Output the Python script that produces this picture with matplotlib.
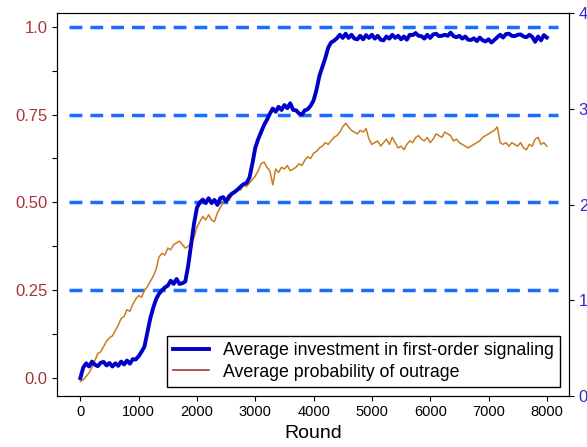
import matplotlib

matplotlib.use("Agg")
import matplotlib.pyplot as plt
from matplotlib.lines import Line2D

plt.rcParams["font.family"] = ["Liberation Sans", "DejaVu Sans"]

# Rounds sampled every 50 steps
rounds = list(range(0, 8001, 50))

investment = [
    0.000, 0.030, 0.042, 0.033, 0.047, 0.038, 0.034, 0.044, 0.046, 0.036,
    0.043, 0.033, 0.042, 0.035, 0.047, 0.039, 0.050, 0.041, 0.054, 0.053,
    0.062, 0.075, 0.090, 0.130, 0.170, 0.200, 0.225, 0.240, 0.250, 0.258,
    0.263, 0.277, 0.268, 0.282, 0.268, 0.270, 0.275, 0.320, 0.380, 0.440,
    0.485, 0.500, 0.508, 0.498, 0.512, 0.498, 0.507, 0.493, 0.512, 0.515,
    0.503, 0.517, 0.525, 0.530, 0.537, 0.545, 0.552, 0.555, 0.570, 0.610,
    0.655, 0.680, 0.700, 0.720, 0.735, 0.752, 0.767, 0.758, 0.772, 0.763,
    0.777, 0.768, 0.782, 0.763, 0.762, 0.753, 0.750, 0.762, 0.765, 0.775,
    0.790, 0.820, 0.860, 0.885, 0.910, 0.940, 0.955, 0.960, 0.967, 0.977,
    0.968, 0.980, 0.968, 0.977, 0.966, 0.964, 0.974, 0.964, 0.976, 0.968,
    0.977, 0.966, 0.974, 0.963, 0.961, 0.972, 0.966, 0.977, 0.968, 0.974,
    0.964, 0.972, 0.963, 0.977, 0.976, 0.982, 0.974, 0.973, 0.966, 0.977,
    0.968, 0.978, 0.980, 0.973, 0.974, 0.977, 0.974, 0.983, 0.973, 0.970,
    0.974, 0.966, 0.972, 0.963, 0.962, 0.967, 0.959, 0.969, 0.961, 0.958,
    0.964, 0.955, 0.962, 0.970, 0.977, 0.969, 0.979, 0.980, 0.974, 0.973,
    0.977, 0.978, 0.972, 0.970, 0.977, 0.971, 0.957, 0.972, 0.961, 0.976,
    0.969,
]

outrage = [
    -0.010, -0.005, 0.005, 0.015, 0.030, 0.050, 0.070, 0.075, 0.090, 0.105,
    0.115, 0.120, 0.135, 0.150, 0.170, 0.175, 0.195, 0.190, 0.210, 0.225,
    0.235, 0.230, 0.250, 0.260, 0.275, 0.290, 0.310, 0.345, 0.355, 0.350,
    0.370, 0.365, 0.380, 0.385, 0.390, 0.380, 0.370, 0.375, 0.385, 0.400,
    0.430, 0.445, 0.460, 0.450, 0.465, 0.450, 0.445, 0.470, 0.485, 0.500,
    0.510, 0.505, 0.520, 0.530, 0.540, 0.535, 0.550, 0.545, 0.555, 0.565,
    0.575, 0.590, 0.610, 0.615, 0.600, 0.590, 0.550, 0.595, 0.585, 0.600,
    0.595, 0.605, 0.590, 0.595, 0.600, 0.610, 0.605, 0.620, 0.630, 0.625,
    0.640, 0.645, 0.655, 0.660, 0.670, 0.665, 0.675, 0.685, 0.690, 0.700,
    0.715, 0.725, 0.715, 0.705, 0.700, 0.695, 0.705, 0.700, 0.710, 0.680,
    0.665, 0.670, 0.675, 0.660, 0.670, 0.680, 0.665, 0.685, 0.670, 0.655,
    0.660, 0.650, 0.665, 0.675, 0.670, 0.685, 0.690, 0.680, 0.675, 0.685,
    0.670, 0.680, 0.695, 0.690, 0.685, 0.700, 0.695, 0.690, 0.675, 0.680,
    0.670, 0.665, 0.660, 0.655, 0.660, 0.665, 0.670, 0.675, 0.685, 0.690,
    0.695, 0.700, 0.705, 0.715, 0.670, 0.665, 0.670, 0.660, 0.670, 0.665,
    0.660, 0.670, 0.655, 0.650, 0.665, 0.660, 0.680, 0.685, 0.665, 0.670,
    0.660,
]

levels = [0.25, 0.5, 0.75, 1.0]
left_ticks = [0.0, 0.125, 0.25, 0.375, 0.5, 0.625, 0.75, 0.875, 1.0]
left_labels = ["0.0", "", "0.25", "", "0.50", "", "0.75", "", "1.0"]
right_ticks = [0, 1, 2, 3, 4]
x_ticks = list(range(0, 8001, 1000))

assert len(rounds) == len(investment) == len(outrage)

BLUE = "#0000c8"
ORANGE = "#c87d1e"
BROWN = "#a3363a"
DASH = "#1a6dff"

fig = plt.figure(figsize=(5.87, 4.47), dpi=100)
ax = fig.add_axes([0.0976, 0.1148, 0.8717, 0.8554])

ax.hlines(levels, -200, 8200, colors=DASH, linestyles=(0, (3.7, 2.3)),
          linewidth=2.5, zorder=1)
ax.plot(rounds, outrage, color=ORANGE, linewidth=1.1, zorder=2)
ax.plot(rounds, investment, color=BLUE, linewidth=2.8, zorder=3)

ax.set_xlim(-395, 8380)
ax.set_ylim(-0.05, 1.038)
ax.set_xticks(x_ticks)
ax.tick_params(axis="x", labelsize=10.5)
ax.set_yticks(left_ticks, left_labels)
ax.tick_params(axis="y", labelsize=12, labelcolor=BROWN)
ax.set_xlabel("Round", fontsize=14, labelpad=4)

ax2 = ax.twinx()
ax2.set_ylim(0, 4)
ax2.set_yticks(right_ticks)
ax2.tick_params(axis="y", labelsize=12, labelcolor="#2a2ad0")

handles = [
    Line2D([], [], color=BLUE, linewidth=2.8),
    Line2D([], [], color=BROWN, linewidth=1.2),
]
ax.legend(handles,
          ["Average investment in first-order signaling",
           "Average probability of outrage"],
          loc="lower right", fontsize=12.8, fancybox=False, framealpha=1,
          edgecolor="black", labelspacing=0.25, borderaxespad=0.5,
          handlelength=2.0, borderpad=0.35)

fig.savefig("out.png", dpi=100)
